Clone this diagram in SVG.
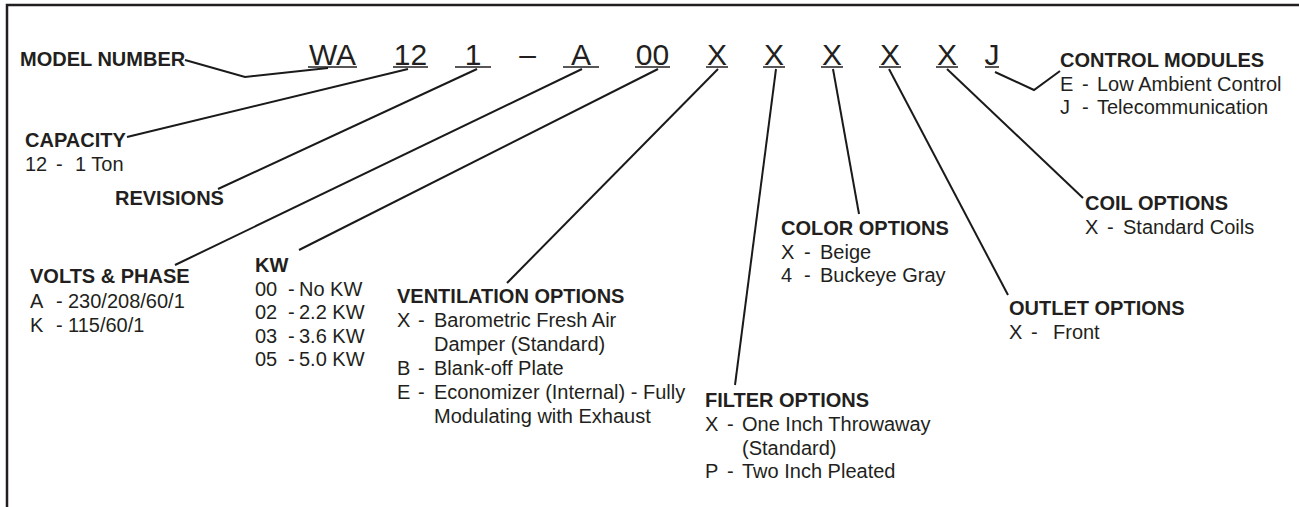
<svg xmlns="http://www.w3.org/2000/svg" width="1299" height="507" viewBox="0 0 1299 507">
<style>
text{font-family:"Liberation Sans",Arial,Helvetica,sans-serif;fill:#231f20;font-size:20px}
.h{font-weight:bold}
.code text{font-size:30px;text-anchor:middle}
.ul{stroke:#231f20;stroke-width:1.5;fill:none}
.c{fill:none;stroke:#1a1a1a;stroke-width:2;stroke-linejoin:miter}
.frame{stroke:#231f20;stroke-width:2.5;fill:none}
</style>
<rect width="1299" height="507" fill="#ffffff"/>
<path class="frame" d="M7,507 V5 H1299"/>

<g id="model-code" class="code">
<text x="332.5" y="65">WA</text>
<text x="410.5" y="65">12</text>
<text x="473" y="65">1</text>
<text x="527.5" y="65">–</text>
<text x="581" y="65">A</text>
<text x="652.5" y="65">00</text>
<text x="717" y="65">X</text>
<text x="774" y="65">X</text>
<text x="832" y="65">X</text>
<text x="890" y="65">X</text>
<text x="947" y="65">X</text>
<text x="992" y="65">J</text>
<path class="ul" d="M308,67H357 M393,67H428 M455,67H491 M563,67H599 M635,67H670 M706,67H728 M763,67H785 M821,67H843 M879,67H901 M936,67H958 M985,67H999"/>
</g>

<g id="connectors">
<path class="c" d="M185,60 L245,77 L328,68"/>
<path class="c" d="M408,69 L127,137"/>
<path class="c" d="M477,69 L218,189"/>
<path class="c" d="M582,69 L175,265"/>
<path class="c" d="M658,69 L299,250"/>
<path class="c" d="M718,69 L507,283"/>
<path class="c" d="M776,69 L735,385"/>
<path class="c" d="M833,69 L859,214"/>
<path class="c" d="M889,69 L1008,295"/>
<path class="c" d="M947,69 L1083,198"/>
<path class="c" d="M995,72 L1034,90 L1060,71"/>
</g>

<g id="model-number">
<text class="h" x="20" y="66">MODEL NUMBER</text>
</g>

<g id="capacity">
<text class="h" x="25" y="147">CAPACITY</text>
<text y="171"><tspan x="25">12</tspan><tspan x="56">-</tspan><tspan x="75">1 Ton</tspan></text>
</g>

<g id="revisions">
<text class="h" x="115" y="205">REVISIONS</text>
</g>

<g id="volts-phase">
<text class="h" x="30" y="283">VOLTS &amp; PHASE</text>
<text y="308"><tspan x="30">A</tspan><tspan x="56">-</tspan><tspan x="68">230/208/60/1</tspan></text>
<text y="332"><tspan x="30">K</tspan><tspan x="56">-</tspan><tspan x="68">115/60/1</tspan></text>
</g>

<g id="kw">
<text class="h" x="255" y="272">KW</text>
<text y="295.6"><tspan x="255">00</tspan><tspan x="288">-</tspan><tspan x="299">No KW</tspan></text>
<text y="319.2"><tspan x="255">02</tspan><tspan x="288">-</tspan><tspan x="299">2.2 KW</tspan></text>
<text y="342.8"><tspan x="255">03</tspan><tspan x="288">-</tspan><tspan x="299">3.6 KW</tspan></text>
<text y="366.4"><tspan x="255">05</tspan><tspan x="288">-</tspan><tspan x="299">5.0 KW</tspan></text>
</g>

<g id="ventilation-options">
<text class="h" x="397" y="302.5">VENTILATION OPTIONS</text>
<text y="326.5"><tspan x="397">X</tspan><tspan x="418">-</tspan><tspan x="434">Barometric Fresh Air</tspan></text>
<text x="434" y="350.5">Damper (Standard)</text>
<text y="374.5"><tspan x="397">B</tspan><tspan x="418">-</tspan><tspan x="434">Blank-off Plate</tspan></text>
<text y="398.5"><tspan x="397">E</tspan><tspan x="418">-</tspan><tspan x="434">Economizer (Internal) - Fully</tspan></text>
<text x="434" y="422.5">Modulating with Exhaust</text>
</g>

<g id="filter-options">
<text class="h" x="705" y="407">FILTER OPTIONS</text>
<text y="431"><tspan x="705">X</tspan><tspan x="727">-</tspan><tspan x="742">One Inch Throwaway</tspan></text>
<text x="742" y="454.5">(Standard)</text>
<text y="478"><tspan x="705">P</tspan><tspan x="727">-</tspan><tspan x="742">Two Inch Pleated</tspan></text>
</g>

<g id="color-options">
<text class="h" x="781" y="235">COLOR OPTIONS</text>
<text y="258.5"><tspan x="781">X</tspan><tspan x="804">-</tspan><tspan x="820">Beige</tspan></text>
<text y="282"><tspan x="781">4</tspan><tspan x="804">-</tspan><tspan x="820">Buckeye Gray</tspan></text>
</g>

<g id="outlet-options">
<text class="h" x="1009" y="315">OUTLET OPTIONS</text>
<text y="338.5"><tspan x="1009">X</tspan><tspan x="1031">-</tspan><tspan x="1053">Front</tspan></text>
</g>

<g id="coil-options">
<text class="h" x="1085" y="210">COIL OPTIONS</text>
<text y="233.5"><tspan x="1085">X</tspan><tspan x="1107">-</tspan><tspan x="1123">Standard Coils</tspan></text>
</g>

<g id="control-modules">
<text class="h" x="1060" y="67">CONTROL MODULES</text>
<text y="90.5"><tspan x="1060">E</tspan><tspan x="1082">-</tspan><tspan x="1097">Low Ambient Control</tspan></text>
<text y="114"><tspan x="1060">J</tspan><tspan x="1082">-</tspan><tspan x="1097">Telecommunication</tspan></text>
</g>
</svg>
